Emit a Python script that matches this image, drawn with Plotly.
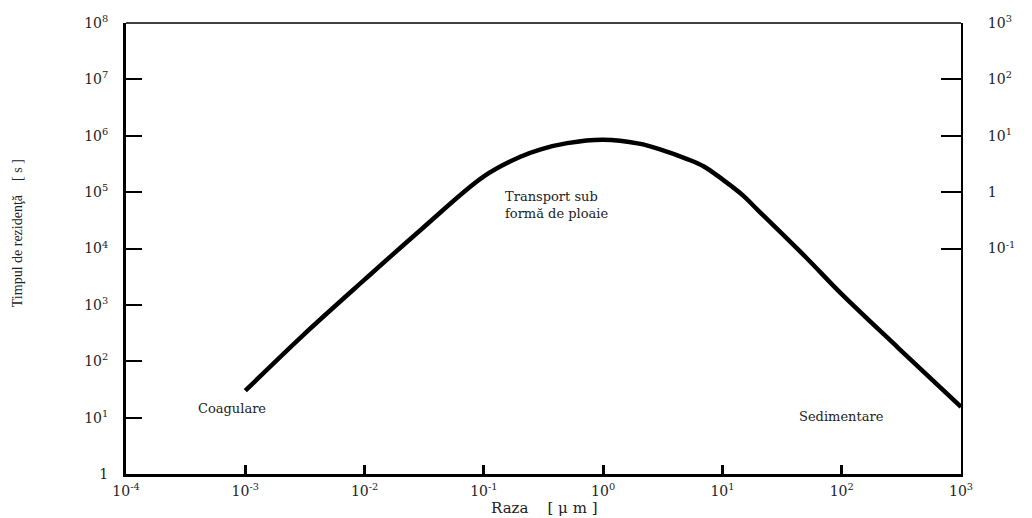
import plotly.graph_objects as go

# Raza [µm]
radius = [1e-3, 3e-3, 1e-2, 3e-2, 0.1, 0.2, 0.3, 0.5, 1, 2, 3, 5, 7, 10, 15, 20, 50, 100, 300, 1000]
# Timpul de rezidenţă [s]
residence_time = [30, 280, 2800, 22000, 190000, 420000, 575000, 740000, 850000, 725000,
                  575000, 390000, 285000, 168000, 86000, 47000, 7000, 1550, 170, 15.5]

left_tickvals = [1, 1e1, 1e2, 1e3, 1e4, 1e5, 1e6, 1e7, 1e8]
left_ticktext = ["1", "10<sup>1</sup>", "10<sup>2</sup>", "10<sup>3</sup>", "10<sup>4</sup>",
                 "10<sup>5</sup>", "10<sup>6</sup>", "10<sup>7</sup>", "10<sup>8</sup>"]
right_tickvals = [0.1, 1, 10, 100, 1000]
right_ticktext = ["10<sup>-1</sup>", "1", "10<sup>1</sup>", "10<sup>2</sup>", "10<sup>3</sup>"]
x_tickvals = [1e-4, 1e-3, 1e-2, 1e-1, 1, 10, 100, 1000]
x_ticktext = ["10<sup>-4</sup>", "10<sup>-3</sup>", "10<sup>-2</sup>", "10<sup>-1</sup>",
              "10<sup>0</sup>", "10<sup>1</sup>", "10<sup>2</sup>", "10<sup>3</sup>"]

FONT = "DejaVu Serif"
TICK_FONT = dict(family=FONT, size=14, color="#222")

fig = go.Figure()
fig.add_trace(go.Scatter(
    x=radius, y=residence_time, mode="lines",
    line=dict(color="black", width=4.5, shape="spline", smoothing=1.0),
    hoverinfo="skip", showlegend=False))
# secondary scale (days), same curve, invisible, only to activate right axis
fig.add_trace(go.Scatter(
    x=radius, y=[t / 1e5 for t in residence_time], yaxis="y2", mode="lines",
    line=dict(color="rgba(0,0,0,0)", width=0), hoverinfo="skip", showlegend=False))

fig.update_layout(
    width=1032, height=518,
    margin=dict(l=126, r=71, t=23, b=44),
    paper_bgcolor="white", plot_bgcolor="white",
    font=dict(family=FONT, size=14, color="#222"),
    xaxis=dict(type="log", range=[-4, 3], tickvals=x_tickvals, ticktext=x_ticktext,
               ticks="inside", ticklen=9, tickwidth=3, tickcolor="black",
               showline=True, linecolor="black", linewidth=3, showgrid=False,
               zeroline=False, ticklabelstandoff=2, tickfont=TICK_FONT),
    yaxis=dict(type="log", range=[0, 8], tickvals=left_tickvals, ticktext=left_ticktext,
               ticks="inside", ticklen=16, tickwidth=2, tickcolor="black",
               showline=True, linecolor="black", linewidth=3, showgrid=False,
               zeroline=False, ticklabelstandoff=12, tickfont=TICK_FONT),
    yaxis2=dict(type="log", range=[-5, 3], overlaying="y", side="right",
                tickvals=right_tickvals, ticktext=right_ticktext,
                ticks="inside", ticklen=20, tickwidth=2, tickcolor="black",
                showline=True, linecolor="black", linewidth=2, showgrid=False,
                zeroline=False, ticklabelstandoff=22, tickfont=TICK_FONT),
    shapes=[dict(type="line", xref="paper", yref="paper", x0=0, x1=1, y0=1, y1=1,
                 line=dict(color="black", width=1.5))],
    annotations=[
        dict(text="Transport sub<br>formă de ploaie", xref="paper", yref="paper",
             x=0.4515, y=0.596, xanchor="left", yanchor="middle", align="left",
             showarrow=False, font=dict(family=FONT, size=13, color="#222")),
        dict(text="Coagulare", xref="paper", yref="paper", x=0.0838, y=0.146,
             xanchor="left", yanchor="middle", showarrow=False,
             font=dict(family=FONT, size=13, color="#222")),
        dict(text="Sedimentare", xref="paper", yref="paper", x=0.8036, y=0.1286,
             xanchor="left", yanchor="middle", showarrow=False,
             font=dict(family=FONT, size=13, color="#222")),
        dict(text="Raza\u00a0\u00a0\u00a0\u00a0[\u00a0μ\u00a0m\u00a0]", xref="paper", yref="paper",
             x=0.5, y=-0.0754, xanchor="center", yanchor="middle", showarrow=False,
             font=dict(family=FONT, size=15, color="#222")),
        dict(text="Timpul de rezidenţă\u00a0\u00a0\u00a0\u00a0[\u00a0s\u00a0]", xref="paper", yref="paper",
             x=-0.1305, y=0.534, xanchor="center", yanchor="middle", textangle=-90,
             showarrow=False, font=dict(family="Liberation Serif", size=14, color="#222")),
    ],
)

fig.write_html("out.html", config={"displayModeBar": False},
               post_script="document.body.style.margin='0';")
